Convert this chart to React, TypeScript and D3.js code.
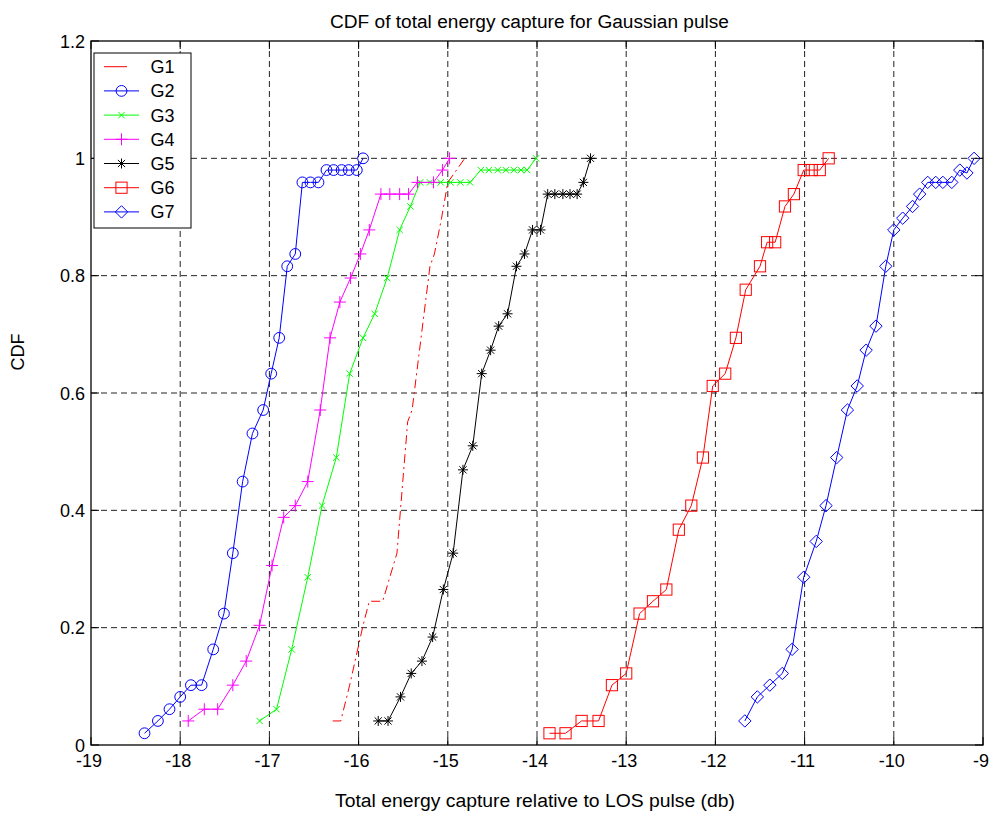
import React from "react";
import * as d3 from "d3";

const W = 994;
const H = 817;

const xTicks = [-19, -18, -17, -16, -15, -14, -13, -12, -11, -10, -9];
const yTicks = [0, 0.2, 0.4, 0.6, 0.8, 1, 1.2];
const yTickLabels = ["0", "0.2", "0.4", "0.6", "0.8", "1", "1.2"];

const seriesNames = ["G1", "G2", "G3", "G4", "G5", "G6", "G7"];
const seriesColors = ["#ff0000", "#0000ff", "#00ff00", "#ff00ff", "#000000", "#ff0000", "#0000ff"];
const seriesMarkers = ["none", "circle", "x", "plus", "star", "square", "diamond"];

const g1X = [-16.29, -16.2, -16.1, -15.95, -15.88, -15.73, -15.57, -15.45, -15.4, -15.3, -15.2, -15.15, -15.07, -15.0, -14.81];
const g1Y = [0.041, 0.041, 0.102, 0.204, 0.245, 0.245, 0.327, 0.551, 0.571, 0.694, 0.816, 0.837, 0.898, 0.959, 1.0];

const g2X = [-18.4, -18.25, -18.12, -18.0, -17.88, -17.76, -17.63, -17.51, -17.41, -17.3, -17.19, -17.07, -16.98, -16.89, -16.8, -16.71, -16.63, -16.54, -16.45, -16.36, -16.28, -16.19, -16.11, -16.02, -15.95];
const g2Y = [0.02, 0.041, 0.061, 0.082, 0.102, 0.102, 0.163, 0.224, 0.327, 0.449, 0.531, 0.571, 0.633, 0.694, 0.816, 0.837, 0.959, 0.959, 0.959, 0.98, 0.98, 0.98, 0.98, 0.98, 1.0];

const g3X = [-17.11, -16.92, -16.75, -16.57, -16.41, -16.25, -16.1, -15.95, -15.82, -15.68, -15.54, -15.42, -15.31, -15.2, -15.08, -14.97, -14.86, -14.75, -14.63, -14.54, -14.44, -14.35, -14.26, -14.18, -14.11, -14.01];
const g3Y = [0.041, 0.061, 0.163, 0.286, 0.408, 0.49, 0.633, 0.694, 0.735, 0.796, 0.878, 0.918, 0.959, 0.959, 0.959, 0.959, 0.959, 0.959, 0.98, 0.98, 0.98, 0.98, 0.98, 0.98, 0.98, 1.0];

const g4X = [-17.91, -17.73, -17.58, -17.41, -17.26, -17.11, -16.97, -16.84, -16.71, -16.57, -16.43, -16.32, -16.21, -16.09, -15.98, -15.88, -15.75, -15.65, -15.54, -15.44, -15.34, -15.16, -15.06, -14.98];
const g4Y = [0.041, 0.061, 0.061, 0.102, 0.143, 0.204, 0.306, 0.388, 0.408, 0.449, 0.571, 0.694, 0.755, 0.796, 0.837, 0.878, 0.939, 0.939, 0.939, 0.939, 0.959, 0.959, 0.98, 1.0];

const g5X = [-15.78, -15.67, -15.53, -15.41, -15.29, -15.17, -15.05, -14.94, -14.83, -14.72, -14.62, -14.52, -14.43, -14.33, -14.23, -14.14, -14.05, -13.96, -13.88, -13.8, -13.71, -13.63, -13.55, -13.48, -13.4];
const g5Y = [0.041, 0.041, 0.082, 0.122, 0.143, 0.184, 0.265, 0.327, 0.469, 0.51, 0.633, 0.673, 0.714, 0.735, 0.816, 0.837, 0.878, 0.878, 0.939, 0.939, 0.939, 0.939, 0.939, 0.959, 1.0];

const g6X = [-13.86, -13.68, -13.5, -13.31, -13.16, -13.0, -12.85, -12.7, -12.55, -12.41, -12.27, -12.14, -12.03, -11.89, -11.77, -11.66, -11.5, -11.42, -11.33, -11.22, -11.12, -11.01, -10.92, -10.83, -10.73];
const g6Y = [0.02, 0.02, 0.041, 0.041, 0.102, 0.122, 0.224, 0.245, 0.265, 0.367, 0.408, 0.49, 0.612, 0.633, 0.694, 0.776, 0.816, 0.857, 0.857, 0.918, 0.939, 0.98, 0.98, 0.98, 1.0];

const g7X = [-11.67, -11.53, -11.39, -11.25, -11.14, -11.01, -10.87, -10.76, -10.64, -10.52, -10.41, -10.31, -10.2, -10.09, -10.0, -9.9, -9.79, -9.71, -9.62, -9.53, -9.45, -9.35, -9.26, -9.18, -9.1];
const g7Y = [0.041, 0.082, 0.102, 0.122, 0.163, 0.286, 0.347, 0.408, 0.49, 0.571, 0.612, 0.673, 0.714, 0.816, 0.878, 0.898, 0.918, 0.939, 0.959, 0.959, 0.959, 0.959, 0.98, 0.975, 1.0];

const seriesX = [g1X, g2X, g3X, g4X, g5X, g6X, g7X];
const seriesY = [g1Y, g2Y, g3Y, g4Y, g5Y, g6Y, g7Y];

const FONT = "'Liberation Sans', Arial, Helvetica, sans-serif";

const PLOT = { left: 91, right: 983, top: 41, bottom: 745 };

function Marker({ type, x, y, color }: { type: string; x: number; y: number; color: string }) {
  const common = { stroke: color, strokeWidth: 1, fill: "none" };
  if (type === "circle") return <circle cx={x} cy={y} r={5.4} {...common} />;
  if (type === "square") return <rect x={x - 5.6} y={y - 5.6} width={11.2} height={11.2} {...common} />;
  if (type === "diamond")
    return <path d={`M${x},${y - 6.2}L${x + 6.2},${y}L${x},${y + 6.2}L${x - 6.2},${y}Z`} {...common} />;
  if (type === "plus")
    return <path d={`M${x - 6},${y}H${x + 6}M${x},${y - 6}V${y + 6}`} {...common} />;
  if (type === "x")
    return <path d={`M${x - 3.2},${y - 3.2}L${x + 3.2},${y + 3.2}M${x - 3.2},${y + 3.2}L${x + 3.2},${y - 3.2}`} {...common} />;
  if (type === "star")
    return (
      <path
        d={`M${x - 5},${y}H${x + 5}M${x},${y - 5}V${y + 5}M${x - 3.6},${y - 3.6}L${x + 3.6},${y + 3.6}M${x - 3.6},${y + 3.6}L${x + 3.6},${y - 3.6}`}
        {...common}
      />
    );
  return null;
}

export default function App() {
  const xScale = d3.scaleLinear().domain([-19, -9]).range([PLOT.left, PLOT.right]);
  const yScale = d3.scaleLinear().domain([0, 1.2]).range([PLOT.bottom, PLOT.top]);
  const line = d3
    .line<[number, number]>()
    .x((d) => xScale(d[0]))
    .y((d) => yScale(d[1]));

  const legendX = 94;
  const legendY = 53;
  const legendW = 97;
  const legendH = 175;
  const rowY = (i: number) => 66.7 + i * 24.2;

  return (
    <svg width={W} height={H} style={{ position: "absolute", left: 0, top: 0, background: "#fff" }} fontFamily={FONT}>
      <rect x={0} y={0} width={W} height={H} fill="#fff" />
      {/* grid */}
      {xTicks.slice(1, -1).map((t) => (
        <line key={"gx" + t} x1={xScale(t)} x2={xScale(t)} y1={PLOT.top} y2={PLOT.bottom} stroke="#222" strokeWidth={1} strokeDasharray="6,4" />
      ))}
      {yTicks.slice(1, -1).map((t) => (
        <line key={"gy" + t} x1={PLOT.left} x2={PLOT.right} y1={yScale(t)} y2={yScale(t)} stroke="#222" strokeWidth={1} strokeDasharray="6,4" />
      ))}
      {/* series */}
      {seriesNames.map((name, i) => {
        const pts: [number, number][] = seriesX[i].map((x, j) => [x, seriesY[i][j]]);
        return (
          <g key={name}>
            <path
              d={line(pts) || ""}
              fill="none"
              stroke={seriesColors[i]}
              strokeWidth={1}
              strokeDasharray={i === 0 ? "9,4,2,4" : undefined}
            />
            {pts.map((p, j) => (
              <Marker key={j} type={seriesMarkers[i]} x={xScale(p[0])} y={yScale(p[1])} color={seriesColors[i]} />
            ))}
          </g>
        );
      })}
      {/* frame */}
      <rect x={PLOT.left} y={PLOT.top} width={PLOT.right - PLOT.left} height={PLOT.bottom - PLOT.top} fill="none" stroke="#000" strokeWidth={1.3} />
      {/* ticks */}
      {xTicks.map((t) => (
        <g key={"tx" + t}>
          <line x1={xScale(t)} x2={xScale(t)} y1={PLOT.bottom} y2={PLOT.bottom - 8} stroke="#000" strokeWidth={1} />
          <line x1={xScale(t)} x2={xScale(t)} y1={PLOT.top} y2={PLOT.top + 8} stroke="#000" strokeWidth={1} />
          <text x={xScale(t) - 2} y={767} fontSize={18} textAnchor="middle" fill="#000">
            {String(t)}
          </text>
        </g>
      ))}
      {yTicks.map((t, i) => (
        <g key={"ty" + t}>
          <line x1={PLOT.left} x2={PLOT.left + 8} y1={yScale(t)} y2={yScale(t)} stroke="#000" strokeWidth={1} />
          <line x1={PLOT.right} x2={PLOT.right - 8} y1={yScale(t)} y2={yScale(t)} stroke="#000" strokeWidth={1} />
          <text x={85} y={yScale(t) + 6.5} fontSize={18} textAnchor="end" fill="#000">
            {yTickLabels[i]}
          </text>
        </g>
      ))}
      {/* title & labels */}
      <text x={529.5} y={28} fontSize={18} textAnchor="middle" textLength={399} lengthAdjust="spacingAndGlyphs" fill="#000">
        CDF of total energy capture for Gaussian pulse
      </text>
      <text x={535} y={807} fontSize={18} textAnchor="middle" textLength={400} lengthAdjust="spacingAndGlyphs" fill="#000">
        Total energy capture relative to LOS pulse (db)
      </text>
      <text transform="translate(24,352) rotate(-90)" fontSize={18} textAnchor="middle" fill="#000">
        CDF
      </text>
      {/* legend */}
      <rect x={legendX} y={legendY} width={legendW} height={legendH} fill="#fff" stroke="#000" strokeWidth={1} />
      {seriesNames.map((name, i) => (
        <g key={"lg" + name}>
          <line
            x1={104}
            x2={139}
            y1={rowY(i)}
            y2={rowY(i)}
            stroke={seriesColors[i]}
            strokeWidth={1}
            strokeDasharray={i === 0 ? "23,40" : undefined}
          />
          <Marker type={seriesMarkers[i]} x={121.5} y={rowY(i)} color={seriesColors[i]} />
          <text x={150.5} y={rowY(i) + 6.5} fontSize={18} fill="#000">
            {name}
          </text>
        </g>
      ))}
    </svg>
  );
}
